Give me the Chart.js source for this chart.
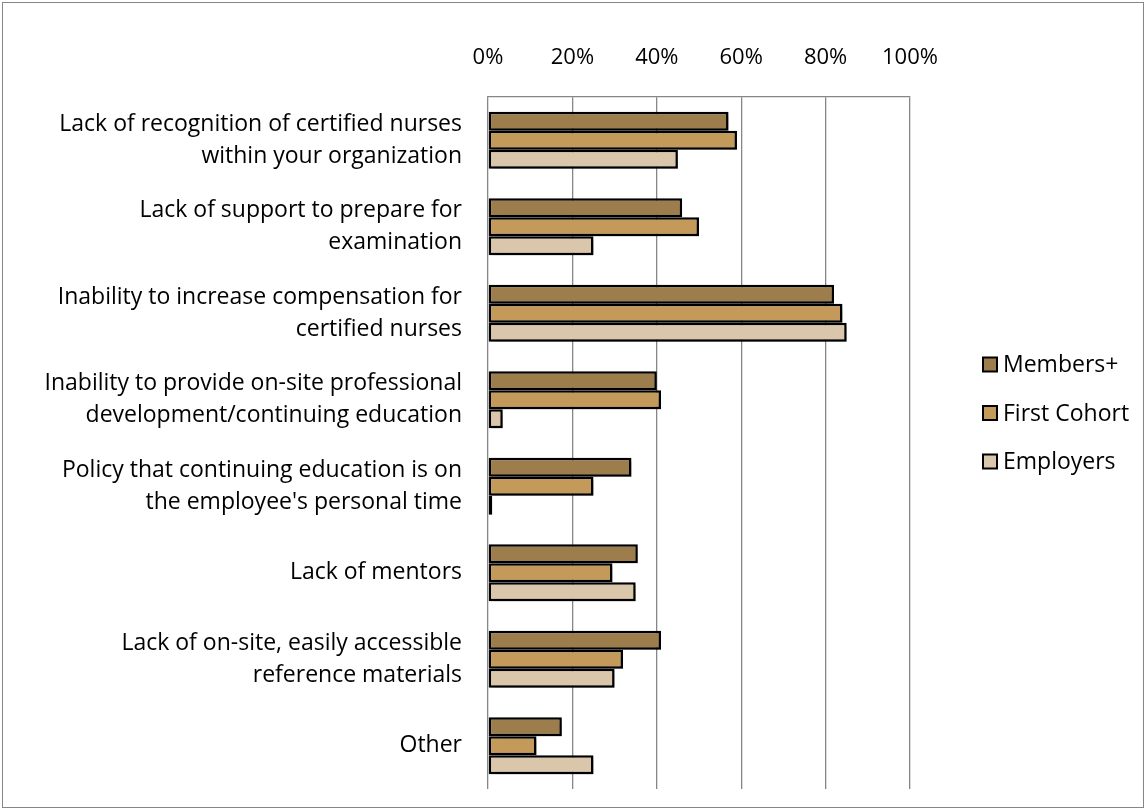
<!DOCTYPE html>
<html>
<head>
<meta charset="utf-8">
<script src="https://cdn.jsdelivr.net/npm/chart.js@4"></script>
<style>
  html, body { margin: 0; padding: 0; background: #fff; }
  #wrap { position: relative; width: 1148px; height: 812px; }
  #frame { position: absolute; left: 2px; top: 2px; width: 1142px; height: 806px; border: 1px solid #868686; box-sizing: border-box; pointer-events: none; }
</style>
</head>
<body>
<div id="wrap">
  <canvas id="barrierChart" width="1148" height="812"></canvas>
  <div id="frame"></div>
</div>
<script>
// Categories (multi-line labels) and survey percentages per group
var categories = [
  ['Lack of recognition of certified nurses', 'within your organization'],
  ['Lack of support to prepare for', 'examination'],
  ['Inability to increase compensation for', 'certified nurses'],
  ['Inability to provide on-site professional', 'development/continuing education'],
  ['Policy that continuing education is on', "the employee's personal time"],
  'Lack of mentors',
  ['Lack of on-site, easily accessible', 'reference materials'],
  'Other'
];
var membersPlus = [57, 46, 82, 40, 34, 35.5, 41, 17.5];
var firstCohort = [59, 50, 84, 41, 25, 29.5, 32, 11.5];
var employers = [45, 25, 85, 3.5, 1, 35, 30, 25];
var tickValues = [0, 20, 40, 60, 80, 100];

var seriesNames = ['Members+', 'First Cohort', 'Employers'];
var seriesColors = ['#9C7D4B', '#C49A5B', '#DAC6AB'];

var fontFamily = '"Open Sans", sans-serif';

// Soft drop shadow behind each bar, like the Office chart
var barShadow = {
  id: 'barShadow',
  beforeDatasetsDraw: function (chart) {
    var ctx = chart.ctx;
    ctx.save();
    ctx.shadowColor = 'rgba(0,0,0,0.35)';
    ctx.shadowBlur = 4;
    ctx.shadowOffsetX = 3;
    ctx.shadowOffsetY = 3;
  },
  afterDatasetsDraw: function (chart) {
    chart.ctx.restore();
  }
};

// Legend drawn by hand to the right of the plot
var sideLegend = {
  id: 'sideLegend',
  afterDraw: function (chart) {
    var ctx = chart.ctx;
    var area = chart.chartArea;
    var x = area.right + 73;
    var midY = (area.top + area.bottom) / 2 - 30;
    var gap = 48.5;
    ctx.save();
    ctx.font = '23px ' + fontFamily;
    ctx.textBaseline = 'middle';
    chart.data.datasets.forEach(function (ds, i) {
      var y = midY + (i - 1) * gap;
      ctx.fillStyle = ds.backgroundColor;
      ctx.fillRect(x, y - 7, 14, 14);
      ctx.lineWidth = 2;
      ctx.strokeStyle = '#000';
      ctx.strokeRect(x, y - 7, 14, 14);
      ctx.fillStyle = '#000';
      ctx.fillText(ds.label, x + 20, y + 1);
    });
    ctx.restore();
  }
};

var ctx = document.getElementById('barrierChart').getContext('2d');
var barrierChart = new Chart(ctx, {
  type: 'bar',
  data: {
    labels: categories,
    datasets: [membersPlus, firstCohort, employers].map(function (vals, i) {
      return {
        label: seriesNames[i],
        data: vals,
        backgroundColor: seriesColors[i],
        borderColor: '#000',
        borderWidth: 2.5,
        borderSkipped: false,
        categoryPercentage: 0.66,
        barPercentage: 1.0
      };
    })
  },
  options: {
    indexAxis: 'y',
    responsive: false,
    animation: false,
    devicePixelRatio: 1,
    layout: { padding: { left: 0, top: 0, right: 238, bottom: 23 } },
    plugins: {
      legend: { display: false },
      tooltip: { enabled: false }
    },
    scales: {
      x: {
        position: 'top',
        min: 0,
        max: 100,
        afterBuildTicks: function (scale) {
          scale.ticks = tickValues.map(function (v) { return { value: v }; });
        },
        afterFit: function (scale) { scale.height = 97; },
        ticks: {
          padding: 26,
          color: '#000',
          font: { family: fontFamily, size: 22 },
          callback: function (v) { return v + '%'; }
        },
        grid: { color: '#868686', lineWidth: 1.3, drawTicks: false },
        border: { display: true, color: '#868686', width: 1.3 }
      },
      y: {
        afterFit: function (scale) {
          scale.width = 488;
          scale.paddingTop = 0;
          scale.paddingBottom = 0;
        },
        ticks: {
          padding: 18,
          color: '#000',
          font: { family: fontFamily, size: 23, lineHeight: 1.4 }
        },
        grid: { display: false },
        border: { display: false }
      }
    }
  },
  plugins: [barShadow, sideLegend]
});
</script>
</body>
</html>
